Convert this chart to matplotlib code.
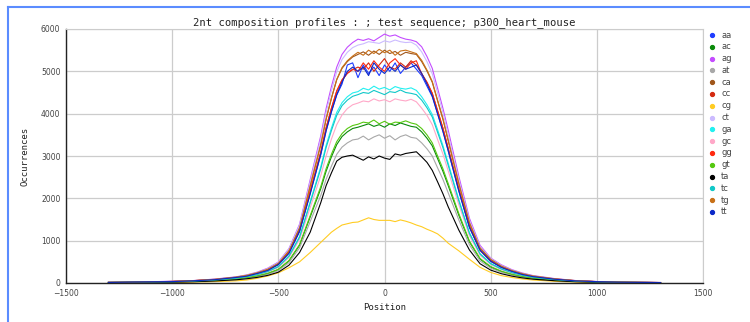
import matplotlib
matplotlib.use("Agg")
import matplotlib.pyplot as plt
from matplotlib.lines import Line2D

# Позиции относительно центра пика
positions = [-1300, -1200, -1100, -1000, -900, -800, -700, -650, -600, -550,
             -500, -450, -400, -350, -300, -275, -250, -225, -200, -175, -150,
             -125, -100, -75, -50, -25, 0, 25, 50, 75, 100, 125, 150,
             175, 200, 225, 250, 275, 300, 350, 400, 450, 500, 550, 600, 650,
             700, 800, 900, 1000, 1100, 1200, 1300]

dinucs = ["aa", "ac", "ag", "at", "ca", "cc", "cg", "ct",
          "ga", "gc", "gg", "gt", "ta", "tc", "tg", "tt"]

colors = ["#1f3dff", "#0a8a0a", "#c44cff", "#a8a8a8", "#a0561a", "#d42a10",
          "#ffcc22", "#ccbbff", "#22f0f0", "#ffa8c8", "#ff2a10", "#55c810",
          "#000000", "#10c8c8", "#c87018", "#0a28c8"]

aa = [15, 20, 25, 35, 50, 80, 125, 165, 220, 300, 430, 710, 1210, 2120, 3030, 3590, 4040, 4440, 4700, 5150, 5200,
      4850, 5150, 4950, 5100, 4900, 5150, 5000, 5200, 4950, 5100, 5200, 5050,
      4900, 4650, 4400, 4000, 3600, 3120, 2170, 1310, 770, 510, 370, 275, 200, 150, 90, 50, 30, 20, 15, 10]
ac = [11, 15, 18, 26, 37, 60, 93, 123, 164, 223, 316, 520, 890, 1560, 2230, 2640, 2980, 3270, 3460, 3570, 3650,
      3680, 3720, 3760, 3700, 3740, 3680, 3760, 3720, 3780, 3740, 3700, 3680,
      3570, 3420, 3240, 2940, 2640, 2300, 1600, 970, 565, 375, 272, 200, 150, 112, 67, 37, 22, 15, 11, 7]
ag = [18, 22, 30, 42, 58, 92, 145, 190, 255, 350, 495, 810, 1390, 2440, 3480, 4120, 4640, 5100, 5400, 5570, 5680,
      5760, 5730, 5770, 5720, 5800, 5880, 5830, 5860, 5800, 5760, 5740, 5700,
      5580, 5350, 5070, 4600, 4130, 3610, 2520, 1530, 890, 590, 430, 315, 235, 175, 105, 58, 35, 23, 17, 12]
at = [10, 14, 17, 24, 35, 55, 86, 114, 152, 207, 293, 480, 830, 1450, 2070, 2450, 2760, 3040, 3210, 3310, 3380,
      3400, 3470, 3380, 3450, 3500, 3420, 3480, 3380, 3460, 3500, 3440, 3420,
      3310, 3170, 3000, 2720, 2450, 2130, 1490, 900, 520, 350, 255, 188, 138, 104, 62, 35, 21, 14, 10, 7]
ca = [16, 22, 27, 38, 55, 87, 136, 180, 240, 327, 463, 763, 1310, 2290, 3270, 3870, 4360, 4800, 5070, 5230, 5340,
      5400, 5460, 5380, 5480, 5400, 5500, 5420, 5470, 5380, 5450, 5420, 5400,
      5230, 5010, 4740, 4300, 3870, 3360, 2350, 1420, 825, 555, 400, 295, 218, 163, 98, 55, 33, 22, 16, 11]
cc = [15, 21, 26, 36, 52, 82, 128, 170, 228, 310, 440, 720, 1240, 2160, 3090, 3660, 4120, 4530, 4790, 4950, 5040,
      5100, 5050, 5200, 5000, 5150, 5300, 5100, 5050, 5200, 5100, 5250, 5150,
      4950, 4740, 4480, 4070, 3660, 3180, 2220, 1340, 780, 525, 378, 282, 205, 155, 93, 52, 31, 21, 15, 10]
cg = [3, 5, 8, 12, 20, 32, 50, 70, 110, 165, 240, 360, 500, 720, 960, 1080, 1200, 1290, 1370, 1400, 1430,
      1440, 1490, 1540, 1500, 1480, 1480, 1480, 1450, 1490, 1460, 1420, 1370,
      1330, 1270, 1220, 1160, 1060, 940, 760, 560, 370, 250, 175, 130, 95, 70, 40, 20, 12, 8, 5, 3]
ct = [15, 24, 28, 40, 56, 90, 140, 185, 250, 340, 485, 800, 1370, 2390, 3410, 4030, 4540, 4990, 5280, 5450, 5560,
      5620, 5650, 5700, 5680, 5660, 5720, 5690, 5740, 5700, 5680, 5690, 5620,
      5460, 5230, 4940, 4490, 4030, 3500, 2440, 1480, 860, 580, 415, 305, 227, 170, 102, 57, 34, 23, 17, 11]
ga = [14, 18, 23, 32, 46, 73, 115, 150, 200, 275, 390, 640, 1100, 1920, 2750, 3250, 3660, 4030, 4260, 4400, 4490,
      4520, 4600, 4560, 4650, 4580, 4620, 4560, 4640, 4600, 4580, 4610, 4550,
      4400, 4210, 3980, 3620, 3250, 2830, 1970, 1190, 695, 465, 338, 246, 183, 137, 82, 46, 27, 18, 14, 9]
gc = [13, 17, 22, 30, 43, 69, 108, 143, 190, 259, 367, 600, 1030, 1780, 2540, 3000, 3400, 3740, 3970, 4120, 4210,
      4250, 4300, 4280, 4350, 4300, 4330, 4280, 4350, 4320, 4300, 4340, 4280,
      4130, 3960, 3740, 3390, 3050, 2650, 1850, 1120, 655, 437, 317, 233, 172, 130, 78, 43, 26, 17, 13, 9]
gg = [13, 22, 27, 35, 55, 80, 130, 168, 230, 305, 445, 725, 1250, 2170, 3100, 3670, 4130, 4540, 4800, 4960, 5050,
      5000, 5200, 5050, 5250, 5100, 5000, 5200, 5300, 5150, 5050, 5200, 5250,
      4940, 4740, 4480, 4070, 3660, 3180, 2220, 1340, 780, 525, 378, 282, 205, 155, 93, 52, 31, 21, 15, 10]
gt = [11, 15, 19, 27, 38, 60, 95, 125, 167, 228, 323, 530, 910, 1590, 2280, 2700, 3040, 3340, 3530, 3650, 3720,
      3750, 3800, 3780, 3850, 3760, 3820, 3750, 3800, 3790, 3830, 3780, 3750,
      3650, 3500, 3310, 3000, 2700, 2350, 1640, 990, 580, 388, 280, 206, 152, 114, 68, 38, 23, 15, 11, 8]
ta = [9, 12, 15, 21, 30, 48, 75, 99, 132, 180, 255, 420, 720, 1200, 1900, 2300, 2600, 2880, 2970, 3000, 3020,
      2960, 2900, 2980, 2930, 3000, 2950, 2920, 3050, 3020, 3060, 3080, 3100,
      2980, 2850, 2660, 2390, 2110, 1800, 1250, 780, 455, 305, 220, 162, 120, 90, 54, 30, 18, 12, 9, 6]
tc = [13, 19, 22, 31, 45, 72, 112, 148, 198, 270, 383, 630, 1080, 1890, 2700, 3200, 3600, 3960, 4190, 4320, 4410,
      4450, 4500, 4480, 4550, 4500, 4450, 4520, 4500, 4560, 4500, 4480, 4450,
      4320, 4140, 3920, 3560, 3200, 2780, 1940, 1170, 685, 455, 330, 244, 180, 135, 81, 45, 27, 18, 13, 9]
tg = [14, 20, 29, 36, 56, 85, 138, 178, 242, 325, 465, 760, 1300, 2300, 3280, 3880, 4370, 4810, 5090, 5250, 5360,
      5450, 5380, 5500, 5420, 5520, 5440, 5500, 5380, 5480, 5500, 5460, 5420,
      5260, 5030, 4760, 4320, 3890, 3380, 2360, 1430, 830, 560, 400, 295, 220, 165, 98, 55, 33, 22, 16, 11]
tt = [12, 22, 28, 33, 52, 78, 130, 160, 225, 295, 440, 700, 1230, 2100, 3050, 3600, 4050, 4450, 4750, 5000, 5100,
      5000, 5100, 4900, 5200, 5050, 4950, 5100, 5000, 5150, 5050, 5100, 5150,
      4950, 4700, 4420, 4000, 3580, 3130, 2180, 1320, 780, 520, 370, 275, 200, 150, 90, 50, 32, 20, 14, 10]

series = [aa, ac, ag, at, ca, cc, cg, ct, ga, gc, gg, gt, ta, tc, tg, tt]

W, H = 750, 322
fig = plt.figure(figsize=(W / 100, H / 100), dpi=100)
ax = fig.add_axes([66 / W, 1 - 283 / H, (703 - 66) / W, (283 - 29) / H])

for name, col, ys in zip(dinucs, colors, series):
    ax.plot(positions, ys, color=col, lw=0.8, label=name)

ax.set_xlim(-1500, 1500)
ax.set_ylim(0, 6000)
ax.set_xticks(range(-1500, 1501, 500))
ax.set_yticks(range(0, 6001, 1000))
ax.tick_params(length=0, labelsize=5.5, colors="#444444", pad=4)
ax.grid(True, color="#cccccc", lw=0.9)
ax.set_axisbelow(True)
for s in ["top", "right"]:
    ax.spines[s].set_color("#cccccc")
for s in ["left", "bottom"]:
    ax.spines[s].set_color("#222222")
    ax.spines[s].set_linewidth(1.0)

mono = "DejaVu Sans Mono"
ax.set_title("2nt composition profiles : ; test sequence; p300_heart_mouse",
             fontsize=7.6, family=mono, pad=3, color="#222222")
ax.set_xlabel("Position", fontsize=6.5, family=mono, labelpad=4, color="#222222")
ax.set_ylabel("Occurrences", fontsize=6.5, family=mono, labelpad=8, color="#222222")

# Легенда справа: точка и подпись
for i, (name, col) in enumerate(zip(dinucs, colors)):
    y = 1 - (35 + i * 11.8) / H
    fig.add_artist(Line2D([712 / W], [y], marker="o", ms=2.8, color=col,
                          lw=0, transform=fig.transFigure))
    fig.text(721 / W, y, name, fontsize=6, color="#444444", va="center")

# Синяя рамка слева и сверху
fig.add_artist(Line2D([7.5 / W, 7.5 / W], [0, 1 - 7 / H], color="#5b8cff", lw=1.5,
                      transform=fig.transFigure))
fig.add_artist(Line2D([7.5 / W, 1], [1 - 7 / H, 1 - 7 / H], color="#5b8cff", lw=1.5,
                      transform=fig.transFigure))

fig.savefig("out.png", dpi=100)
